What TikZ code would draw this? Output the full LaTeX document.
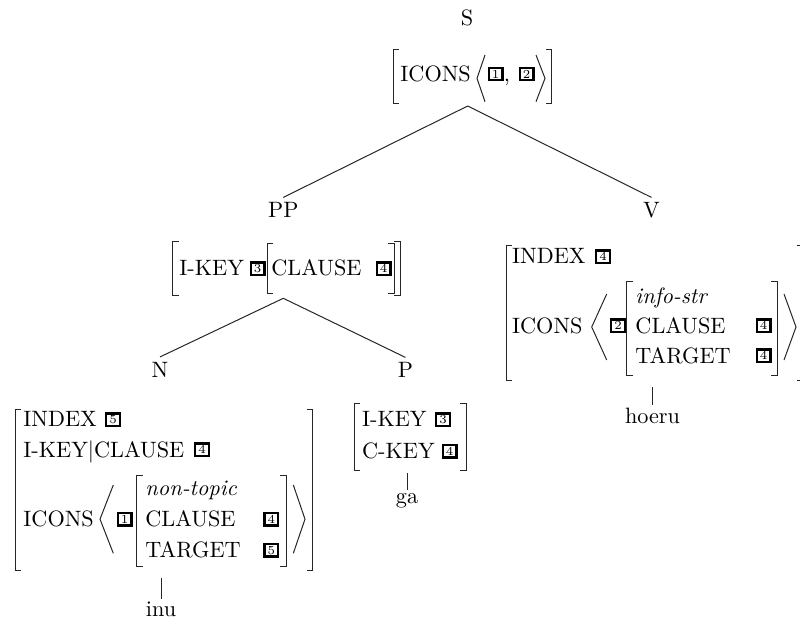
\documentclass[tikz,border=0pt]{standalone}
\usepackage{fontspec}
\newcommand\BrL[3]{\draw[brk] (#1+6,#2) -- (#1,#2) -- (#1,#3) -- (#1+6,#3);}
\newcommand\BrR[3]{\draw[brk] (#1-6,#2) -- (#1,#2) -- (#1,#3) -- (#1-6,#3);}
\newcommand\AngL[4]{\draw[brk] (#2,#3) -- (#1,{(#3+#4)/2}) -- (#2,#4);}
\newcommand\AngR[4]{\draw[brk] (#1,#3) -- (#2,{(#3+#4)/2}) -- (#1,#4);}
\begin{document}
\begin{tikzpicture}[x=0.45pt,y=-0.45pt,
  txt/.style={anchor=base west,inner sep=0pt},
  cat/.style={anchor=base,inner sep=2pt},
  lex/.style={anchor=base,inner sep=1pt},
  tagbox/.style={draw,line width=1pt,minimum width=6.2pt,minimum height=5.6pt,inner sep=0pt,anchor=south west,font=\fontsize{5.5}{6}\selectfont},
  brk/.style={line width=0.45pt,black!85},
  branch/.style={line width=0.45pt,black!85}]
\useasboundingbox (0,0) rectangle (800,622);
\clip (0,0) rectangle (800,622);
% ---- S ----
\node[cat] (s) at (467,25.5) {S};
\BrL{393}{50}{103.3}
\node[txt] (s-icons) at (400,81.7) {ICONS};
\AngL{477}{485}{55}{101.7}
\node[tagbox] (s-t1) at (487.5,81.5) {1};
\node[txt] (s-comma) at (503.5,81.7) {,};
\node[tagbox] (s-t2) at (518.5,81.5) {2};
\AngR{536}{545}{55}{101.7}
\BrR{551.5}{50}{103.3}
\coordinate (s-apex) at (467.7,106);
\node[cat] (pp) at (283.3,217.5) {PP};
\node[cat] (v) at (651.5,217.5) {V};
\draw[branch] (s-apex) -- (pp.north);
\draw[branch] (s-apex) -- (v.north);
% ---- PP ----
\BrL{172.7}{241.7}{295.5}
\node[txt] (pp-ikey) at (179,275) {I-KEY};
\node[tagbox] (pp-t3) at (249.5,276) {3};
\BrL{267.3}{243.5}{293.5}
\node[txt] (pp-clause) at (271,275) {CLAUSE};
\node[tagbox] (pp-t4) at (375.5,276) {4};
\BrR{394.3}{243.5}{293.5}
\BrR{400}{241.7}{295.5}
\coordinate (pp-apex) at (283.3,298.3);
\node[cat] (n) at (160,377) {N};
\node[cat] (p) at (405.5,377.5) {P};
\draw[branch] (pp-apex) -- (n.north);
\draw[branch] (pp-apex) -- (p.north);
% ---- P ----
\BrL{354}{403.3}{470}
\node[txt] (p-ikey) at (361.7,426.7) {I-KEY};
\node[tagbox] (p-t3) at (435,427) {3};
\node[txt] (p-ckey) at (361.7,458.3) {C-KEY};
\node[tagbox] (p-t4) at (441.7,458.5) {4};
\BrR{466}{403.3}{470}
\coordinate (p-foot) at (407,473);
\node[lex] (ga) at (407,503) {ga};
\draw[branch] (p-foot) -- (p-foot |- ga.north);
% ---- N ----
\BrL{15}{409.3}{570}
\node[txt] (n-index) at (23,426.7) {INDEX};
\node[tagbox] (n-t5a) at (105,427) {5};
\node[txt] (n-ikey) at (23,457.3) {I-KEY|CLAUSE};
\node[tagbox] (n-t4a) at (194,457) {4};
\node[txt] (n-icons) at (23,526.7) {ICONS};
\AngL{100}{113.3}{485}{553.3}
\node[tagbox] (n-t1) at (116.7,526.5) {1};
\BrL{136.7}{475}{566.7}
\node[txt] (n-type) at (145,495) {\textit{non-topic}};
\node[txt] (n-clause) at (145,526.7) {CLAUSE};
\node[tagbox] (n-t4b) at (263.3,526.5) {4};
\node[txt] (n-target) at (145,557.3) {TARGET};
\node[tagbox] (n-t5b) at (263.3,557.5) {5};
\BrR{286}{475}{566.7}
\AngR{293.3}{305}{485}{553.3}
\BrR{312.7}{409.3}{570}
\coordinate (n-foot) at (161,578.3);
\node[lex] (inu) at (161,616) {inu};
\draw[branch] (n-foot) -- (n-foot |- inu.north);
% ---- V ----
\BrL{506}{245}{380.7}
\node[txt] (v-index) at (511.7,263.3) {INDEX};
\node[tagbox] (v-t4a) at (595,264) {4};
\node[txt] (v-icons) at (511.7,333.3) {ICONS};
\AngL{591.7}{606.7}{294}{360}
\node[tagbox] (v-t2) at (610,333) {2};
\BrL{626.7}{281.7}{375}
\node[txt] (v-type) at (635,303.3) {\textit{info-str}};
\node[txt] (v-clause) at (635,333.3) {CLAUSE};
\node[tagbox] (v-t4b) at (755.5,333) {4};
\node[txt] (v-target) at (635,363.3) {TARGET};
\node[tagbox] (v-t4c) at (755.5,363) {4};
\BrR{777.3}{281.7}{375}
\AngR{784}{796}{294}{360}
\BrR{802.5}{245}{380.7}
\coordinate (v-foot) at (652.5,387);
\node[lex] (hoeru) at (652.5,423) {hoeru};
\draw[branch] (v-foot) -- (v-foot |- hoeru.north);
\end{tikzpicture}
\end{document}
